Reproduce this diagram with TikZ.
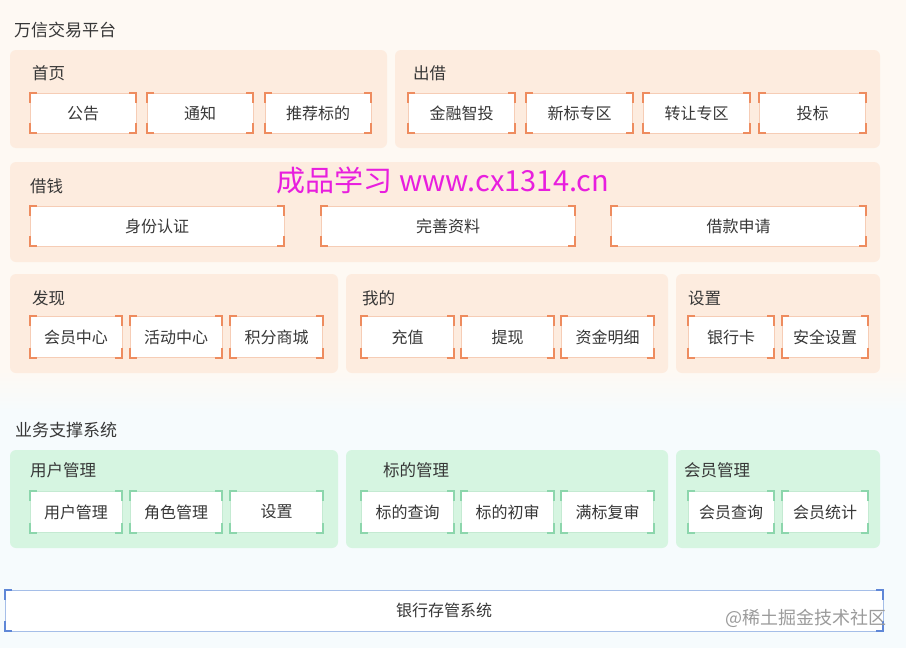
\documentclass[tikz,border=0pt]{standalone}
\usepackage{fontspec}
\setmainfont{Noto Sans CJK SC}
\usepackage{tikz}
\usetikzlibrary{positioning}
\definecolor{mytext}{RGB}{55,55,55}
\definecolor{bgcream}{RGB}{254,249,243}
\definecolor{bgcyan}{RGB}{246,251,253}
\definecolor{hdrorange}{RGB}{253,236,223}
\definecolor{hdrgreen}{RGB}{214,245,225}
\definecolor{myorange}{RGB}{238,140,95}
\definecolor{lineorange}{RGB}{246,205,182}
\definecolor{mygreen}{RGB}{140,214,172}
\definecolor{linegreen}{RGB}{196,234,210}
\definecolor{myblue}{RGB}{95,135,215}
\definecolor{lineblue}{RGB}{165,190,232}
\definecolor{mymagenta}{RGB}{232,30,222}
\definecolor{mygray}{RGB}{155,155,155}
\tikzset{
  panel/.style={rectangle, fill=hdrorange, rounded corners=6pt, inner sep=0pt},
  greenpanel/.style={panel, fill=hdrgreen},
  title/.style={anchor=west, inner sep=0pt, text=mytext,
    font=\fontsize{16.5}{19}\selectfont},
  item/.style={rectangle, draw=lineorange, fill=white, line width=0.6pt,
    minimum height=40pt, inner sep=0pt, text=mytext,
    font=\fontsize{16}{19}\selectfont},
  greenitem/.style={item, draw=linegreen},
  blueitem/.style={item, draw=lineblue}
}
\newcommand{\corners}[2]{%
  \draw[#2, line width=1.8pt] ([yshift=-10pt]#1.north west) -- (#1.north west) -- ([xshift=7pt]#1.north west);
  \draw[#2, line width=1.8pt] ([yshift=-10pt]#1.north east) -- (#1.north east) -- ([xshift=-7pt]#1.north east);
  \draw[#2, line width=1.8pt] ([yshift=10pt]#1.south west) -- (#1.south west) -- ([xshift=7pt]#1.south west);
  \draw[#2, line width=1.8pt] ([yshift=10pt]#1.south east) -- (#1.south east) -- ([xshift=-7pt]#1.south east);
}

\begin{document}
\begin{tikzpicture}[x=1pt, y=-1pt]
  \useasboundingbox (0,0) rectangle (906,648);

  % Background
  \fill[bgcream] (0,0) rectangle (906,370);
  \shade[top color=bgcream, bottom color=bgcyan] (0,370) rectangle (906,410);
  \fill[bgcyan] (0,410) rectangle (906,648);

  % Trading platform
  \node[title, font=\fontsize{17}{20}\selectfont] (platform) at (14,30) {万信交易平台};

  \node[panel, minimum width=377pt, minimum height=98pt] (shouye) at (198.5,99) {};
  \node[panel, minimum width=485pt, minimum height=98pt] (chujie) at (637.5,99) {};
  \node[panel, minimum width=870pt, minimum height=100pt] (jieqian) at (445,212) {};
  \node[panel, minimum width=328pt, minimum height=99pt] (faxian) at (174,323.5) {};
  \node[panel, minimum width=322pt, minimum height=99pt] (wode) at (507,323.5) {};
  \node[panel, minimum width=204pt, minimum height=99pt] (shezhi) at (778,323.5) {};

  \node[title] (lshouye) at (32,73) {首页};
  \node[title] (lchujie) at (413,73) {出借};
  \node[title] (ljieqian) at (30,186) {借钱};
  \node[title] (lfaxian) at (32,298) {发现};
  \node[title] (lwode) at (362,298) {我的};
  \node[title] (lshezhi) at (688,298) {设置};

  \foreach \nm/\xx/\txt in {gonggao/83/公告, tongzhi/200/通知, tuijian/318/推荐标的,
      jinrong/461.5/金融智投, xinbiao/579.5/新标专区, zhuanrang/696.5/转让专区, toubiao/812.5/投标} {
    \node[item, minimum width=106pt] (\nm) at (\xx,113) {\txt};
    \corners{\nm}{myorange}
  }
  \foreach \nm/\xx/\txt in {shenfen/157/身份认证, wanshan/448/完善资料, jiekuan/738.5/借款申请} {
    \node[item, minimum width=254pt] (\nm) at (\xx,226) {\txt};
    \corners{\nm}{myorange}
  }
  \foreach \nm/\xx/\txt in {huiyuan/76/会员中心, huodong/176/活动中心, jifen/276.5/积分商城,
      chongzhi/407.5/充值, tixian/507.5/提现, zijin/607.5/资金明细} {
    \node[item, minimum width=92pt, minimum height=41pt] (\nm) at (\xx,337) {\txt};
    \corners{\nm}{myorange}
  }
  \foreach \nm/\xx/\txt in {yinhang/731/银行卡, anquan/825/安全设置} {
    \node[item, minimum width=86pt, minimum height=41pt] (\nm) at (\xx,337) {\txt};
    \corners{\nm}{myorange}
  }

  % Support system
  \node[title, font=\fontsize{17}{20}\selectfont] (support) at (15,430) {业务支撑系统};

  \node[greenpanel, minimum width=328pt, minimum height=98pt] (yonghu) at (174,499) {};
  \node[greenpanel, minimum width=322pt, minimum height=98pt] (biaodi) at (507,499) {};
  \node[greenpanel, minimum width=204pt, minimum height=98pt] (huiyuangl) at (778,499) {};

  \node[title] (lyonghu) at (30,470) {用户管理};
  \node[title] (lbiaodi) at (383,470) {标的管理};
  \node[title] (lhuiyuangl) at (684,470) {会员管理};

  \foreach \nm/\xx/\txt in {yhgl/76/用户管理, jsgl/176/角色管理, sz/276.5/设置,
      bdcx/407.5/标的查询, bdcs/507.5/标的初审, mbfs/607.5/满标复审} {
    \node[greenitem, minimum width=92pt, minimum height=41pt] (\nm) at (\xx,512) {\txt};
    \corners{\nm}{mygreen}
  }
  \foreach \nm/\xx/\txt in {hycx/731/会员查询, hytj/825/会员统计} {
    \node[greenitem, minimum width=86pt, minimum height=41pt] (\nm) at (\xx,512) {\txt};
    \corners{\nm}{mygreen}
  }

  % Bank depository
  \node[blueitem, minimum width=878pt, minimum height=41pt] (bank) at (444,610.5) {银行存管系统};
  \corners{bank}{myblue}

  % Watermarks
  \node[text=mymagenta, font=\fontsize{29}{33}\selectfont] (mark) at (443,180) {成品学习 www.cx1314.cn};
  \node[text=mygray, font=\fontsize{18}{21}\selectfont] (juejin) at (806,618) {@稀土掘金技术社区};
\end{tikzpicture}
\end{document}
